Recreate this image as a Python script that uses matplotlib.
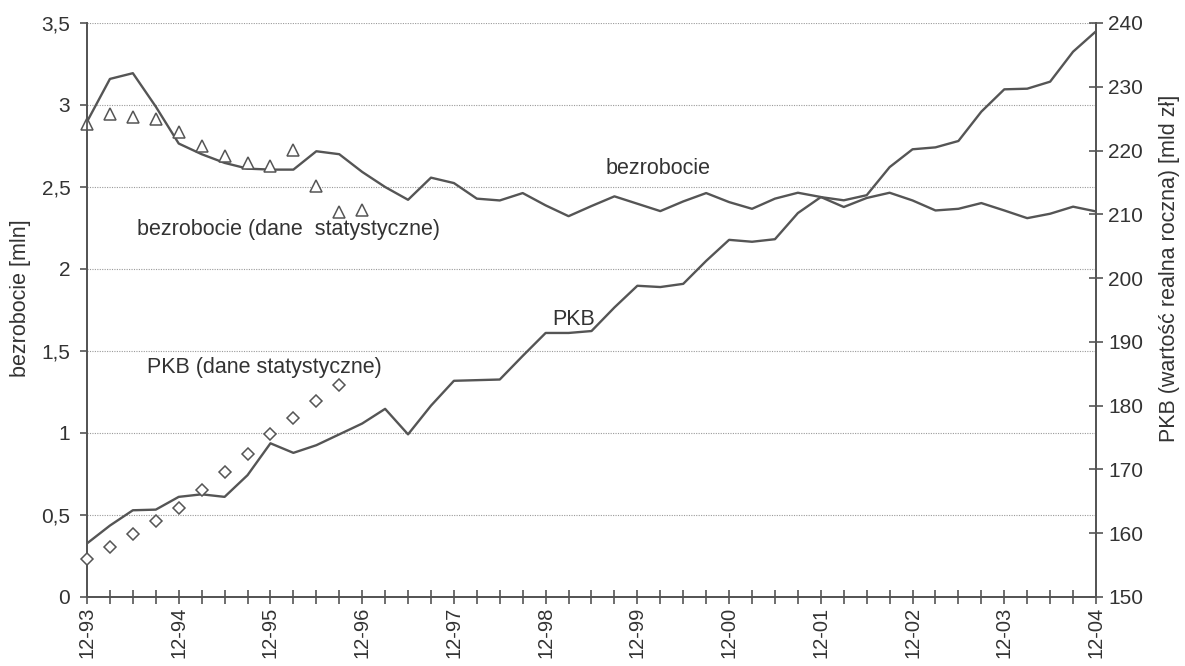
import numpy as np
import matplotlib.pyplot as plt
from matplotlib.ticker import FixedLocator, FuncFormatter

plt.rcParams['font.family'] = ['Liberation Sans', 'DejaVu Sans']

# ------------------------
# Data (quarterly, 12-93 .. 12-04)
# ------------------------
tick_labels = ['12-93', '12-94', '12-95', '12-96', '12-97', '12-98',
               '12-99', '12-00', '12-01', '12-02', '12-03', '12-04']

# model unemployment [mln]
bezrobocie = [2.898, 3.159, 3.194, 2.99, 2.765, 2.70, 2.647, 2.612, 2.606, 2.606,
              2.718, 2.70, 2.592, 2.5, 2.422, 2.557, 2.524, 2.429, 2.418, 2.463,
              2.388, 2.322, 2.384, 2.443, 2.398, 2.353, 2.412, 2.463, 2.408, 2.367,
              2.429, 2.465, 2.439, 2.378, 2.433, 2.465, 2.418, 2.357, 2.367, 2.402,
              2.357, 2.31, 2.337, 2.380, 2.351]

# statistical unemployment [mln]
bezrobocie_stat = [2.884, 2.943, 2.929, 2.914, 2.833, 2.751, 2.69, 2.649, 2.627,
                   2.724, 2.508, 2.345, 2.357]

# model GDP [mld zl]
pkb = [158.4, 161.2, 163.6, 163.7, 165.7, 166.1, 165.7, 169.1, 174.1, 172.6,
       173.8, 175.5, 177.2, 179.5, 175.5, 180.0, 183.9, 184.0, 184.1, 187.8,
       191.4, 191.4, 191.7, 195.4, 198.8, 198.6, 199.1, 202.7, 206.0, 205.7,
       206.1, 210.2, 212.7, 212.2, 213.0, 217.4, 220.2, 220.5, 221.5, 226.1,
       229.6, 229.7, 230.8, 235.5, 238.7]

# statistical GDP [mld zl]
pkb_stat = [155.9, 157.8, 159.9, 161.9, 164.0, 166.8, 169.6, 172.5, 175.5,
            178.1, 180.7, 183.3]

q = np.arange(len(pkb))

# ------------------------
# Figure
# ------------------------
txt = '#333333'
ln = '#555555'

fig = plt.figure(figsize=(11.85, 6.66), dpi=100)
ax = fig.add_axes([87/1185, 1 - 597/666, 1009/1185, 574/666])
ax2 = ax.twinx()

ax.set_xlim(0, 44)
ax.set_ylim(0, 3.5)
ax2.set_ylim(150, 240)

# grid
for g in np.arange(0.5, 3.51, 0.5):
    ax.axhline(g, color='#9a9a9a', lw=0.8, ls=(0, (1, 1.2)), zorder=0)

# lines + markers
ax.plot(q, bezrobocie, color=ln, lw=1.7, zorder=3)
ax.plot(q[:len(bezrobocie_stat)], bezrobocie_stat, ls='none', marker='^',
        ms=8.5, mfc='white', mec=ln, mew=1.1, zorder=4, clip_on=False)
ax2.plot(q, pkb, color=ln, lw=1.7, zorder=3)
ax2.plot(q[:len(pkb_stat)], pkb_stat, ls='none', marker='D',
         ms=6, mfc='white', mec=ln, mew=1.1, zorder=4, clip_on=False)

# spines
for a in (ax, ax2):
    a.spines['top'].set_visible(False)
    for s in ('left', 'right', 'bottom'):
        a.spines[s].set_color(ln)
        a.spines[s].set_linewidth(1.3)

# x ticks: every quarter, labels every year
ax.xaxis.set_major_locator(FixedLocator(q[::4]))
ax.xaxis.set_minor_locator(FixedLocator(q))
ax.set_xticklabels(tick_labels, rotation=90, fontsize=14.5, color=txt)
ax.tick_params(axis='x', which='both', direction='inout', length=10,
               width=1.2, color=ln, pad=2)

# left y ticks
ax.set_yticks(np.arange(0, 3.51, 0.5))
ax.yaxis.set_major_formatter(FuncFormatter(
    lambda v, p: ('%g' % v).replace('.', ',')))
ax.tick_params(axis='y', direction='out', length=5, width=1.2, color=ln,
               labelsize=15, labelcolor=txt, pad=7)

# right y ticks
ax2.set_yticks(np.arange(150, 241, 10))
ax2.tick_params(axis='y', direction='inout', length=10, width=1.2, color=ln,
                labelsize=15, labelcolor=txt, pad=4)

# axis titles
fig.text(21/1185, 1 - 298/666, 'bezrobocie [mln]', fontsize=15.5, color=txt,
         rotation=90, ha='center', va='center')
fig.text(1169/1185, 1 - 268/666, 'PKB (wartość realna roczna) [mld zł]',
         fontsize=15.5, color=txt, rotation=90, ha='center', va='center')

# annotations
ax.text(24.9, 2.61, 'bezrobocie', fontsize=15.5, color=txt, ha='center', va='center')
ax.text(2.2, 2.24, 'bezrobocie (dane  statystyczne)', fontsize=15.5, color=txt,
        ha='left', va='center')
ax.text(2.6, 1.40, 'PKB (dane statystyczne)', fontsize=15.5, color=txt,
        ha='left', va='center')
ax.text(20.3, 1.69, 'PKB', fontsize=15.5, color=txt, ha='left', va='center')

fig.savefig('out.png', dpi=100)
